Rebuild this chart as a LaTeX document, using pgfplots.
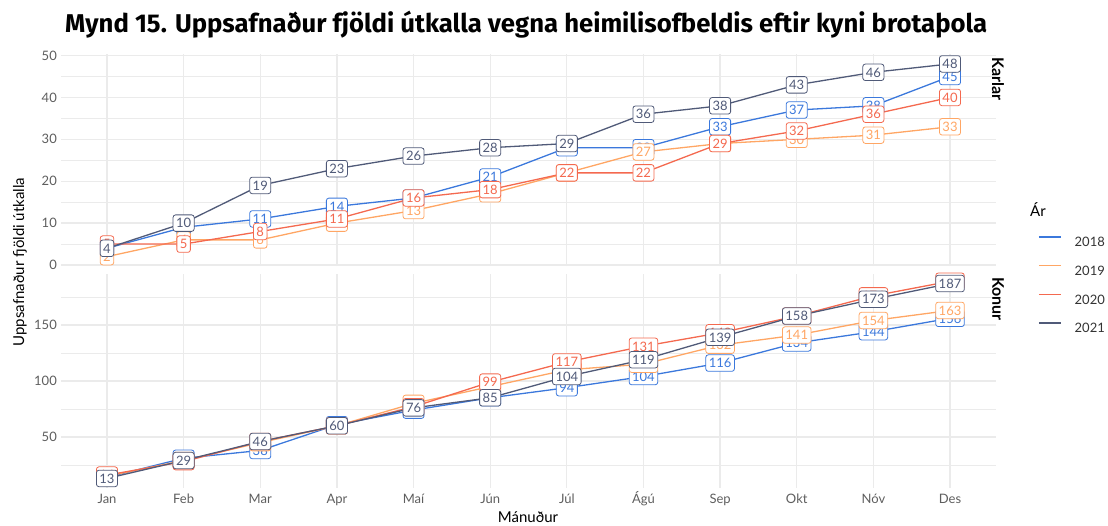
\documentclass[border=0pt]{standalone}
\usepackage{fontspec}
\setmainfont{Lato}
\newfontfamily\titlefont{Fira Sans}
\usepackage{pgfplots}
\usepackage{pgfplotstable}
\pgfplotsset{compat=1.18}

\definecolor{c18}{HTML}{3B78DC}
\definecolor{c19}{HTML}{FFA664}
\definecolor{c20}{HTML}{F4694F}
\definecolor{c21}{HTML}{505A78}
\definecolor{gridc}{HTML}{EBEBEB}
\definecolor{tickc}{HTML}{5E5E5E}

% cumulative counts, month index 0 = Jan
\pgfplotstableread{
m y18 y19 y20 y21
0 4 2 5 4
1 9 6 5 10
2 11 6 8 19
3 14 10 11 23
4 16 13 16 26
5 21 17 18 28
6 28 22 22 29
7 28 27 22 36
8 33 29 29 38
9 37 30 32 43
10 38 31 36 46
11 45 33 40 48
}\karlar

\pgfplotstableread{
m y18 y19 y20 y21
0 14 15 16 13
1 31 29 28 29
2 38 45 46 46
3 61 60 60 60
4 74 80 77 76
5 85 95 99 85
6 94 110 117 104
7 104 115 131 119
8 116 132 143 139
9 134 141 158 158
10 144 154 176 173
11 156 163 189 187
}\konur

\pgfplotsset{
  panel/.style={
    scale only axis, width=935pt,
    xmin=-0.6, xmax=11.6, xtick={0,...,11},
    axis line style={draw=none},
    major tick length=0pt, minor tick length=0pt,
    grid=both,
    major grid style={gridc, line width=1.3pt},
    minor grid style={gridc, line width=0.7pt},
    clip=false,
    /pgf/number format/assume math mode=true,
    ticklabel style={font=\fontsize{13}{15}\selectfont, text=tickc},
    yticklabel style={inner sep=0pt, xshift=-4pt},
    xticklabel style={anchor=north, inner sep=0pt, yshift=-6pt,
      text height=9.5pt, text depth=0pt},
  },
  lab/.style={draw=none, mark=none, forget plot, point meta=y, nodes near coords,
    every node near coord/.append style={anchor=center, draw=#1, text=#1,
      fill=white, rounded corners=2.5pt, line width=0.8pt,
      font=\fontsize{13}{15}\selectfont, text height=9.5pt, text depth=0pt,
      inner xsep=3pt, inner ysep=3.5pt}},
}

\begin{document}
\begin{tikzpicture}
\useasboundingbox (0,0) rectangle (1108pt,526pt);

\begin{axis}[panel, at={(61pt,259.7pt)}, anchor=south west,
  height=212pt, ymin=-0.3, ymax=50.3,
  ytick={0,10,...,50}, minor ytick={5,15,...,45},
  xticklabels={},
  legend style={at={(1.045,0.143)}, anchor=north west, draw=none, fill=none,
    inner sep=0pt, row sep=18pt,
    nodes={inner sep=0pt, text height=10pt, text depth=0pt,
      font=\fontsize{13}{15}\selectfont, text=black!80},
    /tikz/every odd column/.append style={column sep=13pt}},
  legend cell align=left,
  legend image code/.code={\draw[#1, line width=1.4pt] (0pt,5pt) -- (22pt,5pt);},
]
\addplot[c18, line width=1.3pt, mark=none] table[x=m, y=y18] {\karlar};
\addplot[c19, line width=1.3pt, mark=none] table[x=m, y=y19] {\karlar};
\addplot[c20, line width=1.3pt, mark=none] table[x=m, y=y20] {\karlar};
\addplot[c21, line width=1.3pt, mark=none] table[x=m, y=y21] {\karlar};
\legend{2018,2019,2020,2021}
\addplot[lab=c18] table[x=m, y=y18] {\karlar};
\addplot[lab=c19] table[x=m, y=y19] {\karlar};
\addplot[lab=c20] table[x=m, y=y20] {\karlar};
\addplot[lab=c21] table[x=m, y=y21] {\karlar};
\end{axis}

\begin{axis}[panel, at={(61pt,37.8pt)}, anchor=south west,
  height=214.4pt, ymin=4.3, ymax=195.7,
  ytick={50,100,150}, minor ytick={25,75,125,175},
  xticklabels={Jan,Feb,Mar,Apr,Maí,Jún,Júl,Ágú,Sep,Okt,Nóv,Des},
]
\addplot[c18, line width=1.3pt, mark=none] table[x=m, y=y18] {\konur};
\addplot[c19, line width=1.3pt, mark=none] table[x=m, y=y19] {\konur};
\addplot[c20, line width=1.3pt, mark=none] table[x=m, y=y20] {\konur};
\addplot[c21, line width=1.3pt, mark=none] table[x=m, y=y21] {\konur};
\addplot[lab=c18] table[x=m, y=y18] {\konur};
\addplot[lab=c19] table[x=m, y=y19] {\konur};
\addplot[lab=c20] table[x=m, y=y20] {\konur};
\addplot[lab=c21] table[x=m, y=y21] {\konur};
\end{axis}

\node[anchor=base west, inner sep=0pt, font=\titlefont\fontsize{25.7}{29}\selectfont\bfseries]
  at (65pt,493pt) {Mynd 15. Uppsafnaður fjöldi útkalla vegna heimilisofbeldis eftir kyni brotaþola};
\node[rotate=90, inner sep=0pt, font=\fontsize{15}{18}\selectfont] at (20pt,264pt)
  {Uppsafnaður fjöldi útkalla};
\node[inner sep=0pt, font=\fontsize{15}{18}\selectfont] at (528pt,9pt) {Mánuður};
\node[rotate=-90, anchor=west, inner sep=0pt, font=\fontsize{16}{19}\selectfont\bfseries]
  at (998pt,469pt) {Karlar};
\node[rotate=-90, anchor=west, inner sep=0pt, font=\fontsize{16}{19}\selectfont\bfseries]
  at (998pt,249pt) {Konur};
\node[anchor=west, inner sep=0pt, font=\fontsize{15}{18}\selectfont] at (1030pt,316pt) {Ár};
\end{tikzpicture}
\end{document}
